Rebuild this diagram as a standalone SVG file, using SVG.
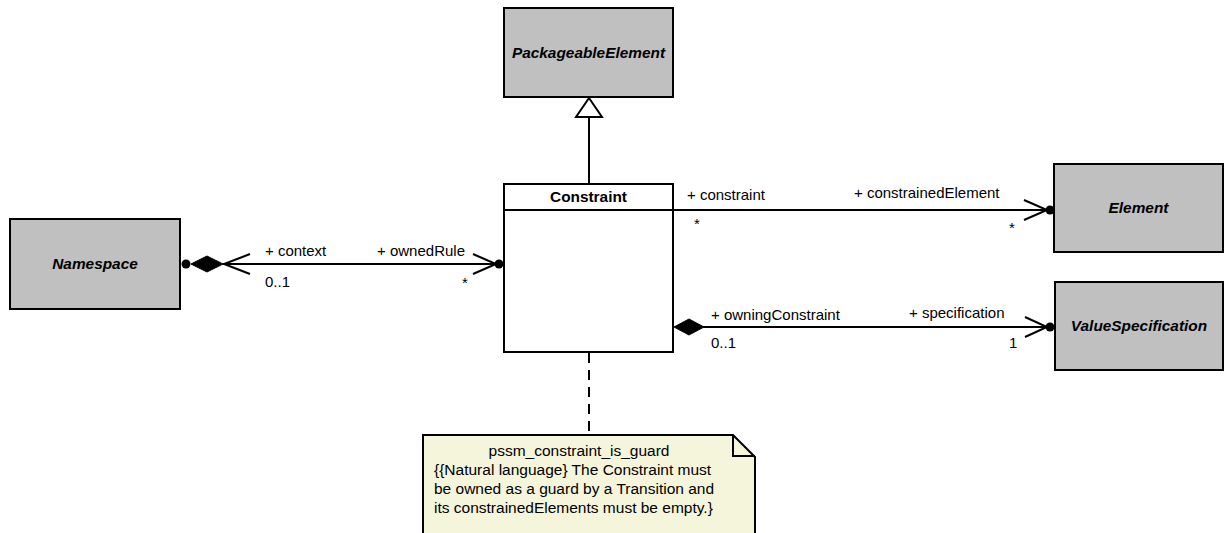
<svg xmlns="http://www.w3.org/2000/svg" width="1226" height="533" viewBox="0 0 1226 533">
<style>
.abs{fill:#C0C0C0;stroke:#000;stroke-width:2}
.cls{fill:#fff;stroke:#000;stroke-width:2}
.name{font-family:"Liberation Sans",Arial,sans-serif;font-size:15.4px;font-weight:bold;font-style:italic;text-anchor:middle;fill:#000}
.cname{font-family:"Liberation Sans",Arial,sans-serif;font-size:15.4px;font-weight:bold;text-anchor:middle;fill:#000}
.lbl{font-family:"Liberation Sans",Arial,sans-serif;font-size:15px;fill:#000}
.ntxt{font-family:"Liberation Sans",Arial,sans-serif;font-size:15.5px;fill:#000}
.ln{fill:none;stroke:#000;stroke-width:2}
.dot{fill:#000}
.dia{fill:#000;stroke:#000;stroke-width:1}
.note{fill:#F5F5DC;stroke:#000;stroke-width:2}
</style>
<g id="connectors">
  <line class="ln" x1="589" y1="117" x2="589" y2="184"/>
  <polygon points="589,98 576,117 602,117" fill="#fff" stroke="#000" stroke-width="2"/>
  <line class="ln" x1="223" y1="264" x2="496" y2="264"/>
  <circle class="dot" cx="186" cy="264" r="4.5"/>
  <polygon class="dia" points="191,264 207,256 223,264 207,272"/>
  <polyline class="ln" points="250,254 224,264 250,274"/>
  <polyline class="ln" points="473,254 496,264 473,274"/>
  <circle class="dot" cx="499" cy="264" r="4.5"/>
  <line class="ln" x1="673" y1="210" x2="1047" y2="210"/>
  <polyline class="ln" points="1024,200 1047,210 1024,220"/>
  <circle class="dot" cx="1050" cy="210" r="4.5"/>
  <line class="ln" x1="703" y1="327" x2="1047" y2="327"/>
  <polygon class="dia" points="674,327 689,319 704,327 689,335"/>
  <polyline class="ln" points="1025,317 1047,327 1025,337"/>
  <circle class="dot" cx="1050" cy="327" r="4.5"/>
  <line x1="589" y1="353" x2="589" y2="435" stroke="#000" stroke-width="2" stroke-dasharray="10,7"/>
  <text class="lbl" x="265" y="256">+ context</text>
  <text class="lbl" x="377" y="256">+ ownedRule</text>
  <text class="lbl" x="265" y="287">0..1</text>
  <text class="lbl" x="462" y="288">*</text>
  <text class="lbl" x="687" y="200">+ constraint</text>
  <text class="lbl" x="694" y="229">*</text>
  <text class="lbl" x="854" y="198">+ constrainedElement</text>
  <text class="lbl" x="1009" y="233">*</text>
  <text class="lbl" x="711" y="320">+ owningConstraint</text>
  <text class="lbl" x="711" y="348">0..1</text>
  <text class="lbl" x="909" y="318">+ specification</text>
  <text class="lbl" x="1009" y="348">1</text>
</g>
<g id="PackageableElement">
  <rect class="abs" x="504" y="8" width="169" height="89"/>
  <text class="name" x="588.5" y="58">PackageableElement</text>
</g>
<g id="Constraint">
  <rect class="cls" x="504" y="184" width="169" height="168"/>
  <line class="ln" x1="504" y1="210" x2="673" y2="210"/>
  <text class="cname" x="588.5" y="202">Constraint</text>
</g>
<g id="Namespace">
  <rect class="abs" x="10" y="219" width="170" height="90"/>
  <text class="name" x="95" y="269">Namespace</text>
</g>
<g id="Element">
  <rect class="abs" x="1054" y="164" width="169" height="88"/>
  <text class="name" x="1138.5" y="213">Element</text>
</g>
<g id="ValueSpecification">
  <rect class="abs" x="1055" y="282" width="168" height="88"/>
  <text class="name" x="1139" y="331">ValueSpecification</text>
</g>
<g id="note">
  <path class="note" d="M423,545 V435 H733 L755,457 V545 Z"/>
  <path d="M733,435 V456 H755" fill="none" stroke="#000" stroke-width="2"/>
  <text class="ntxt" x="579" y="456" text-anchor="middle">pssm_constraint_is_guard</text>
  <text class="ntxt" x="434" y="475">{{Natural language} The Constraint must</text>
  <text class="ntxt" x="434" y="494">be owned as a guard by a Transition and</text>
  <text class="ntxt" x="434" y="513">its constrainedElements must be empty.}</text>
</g>
</svg>
